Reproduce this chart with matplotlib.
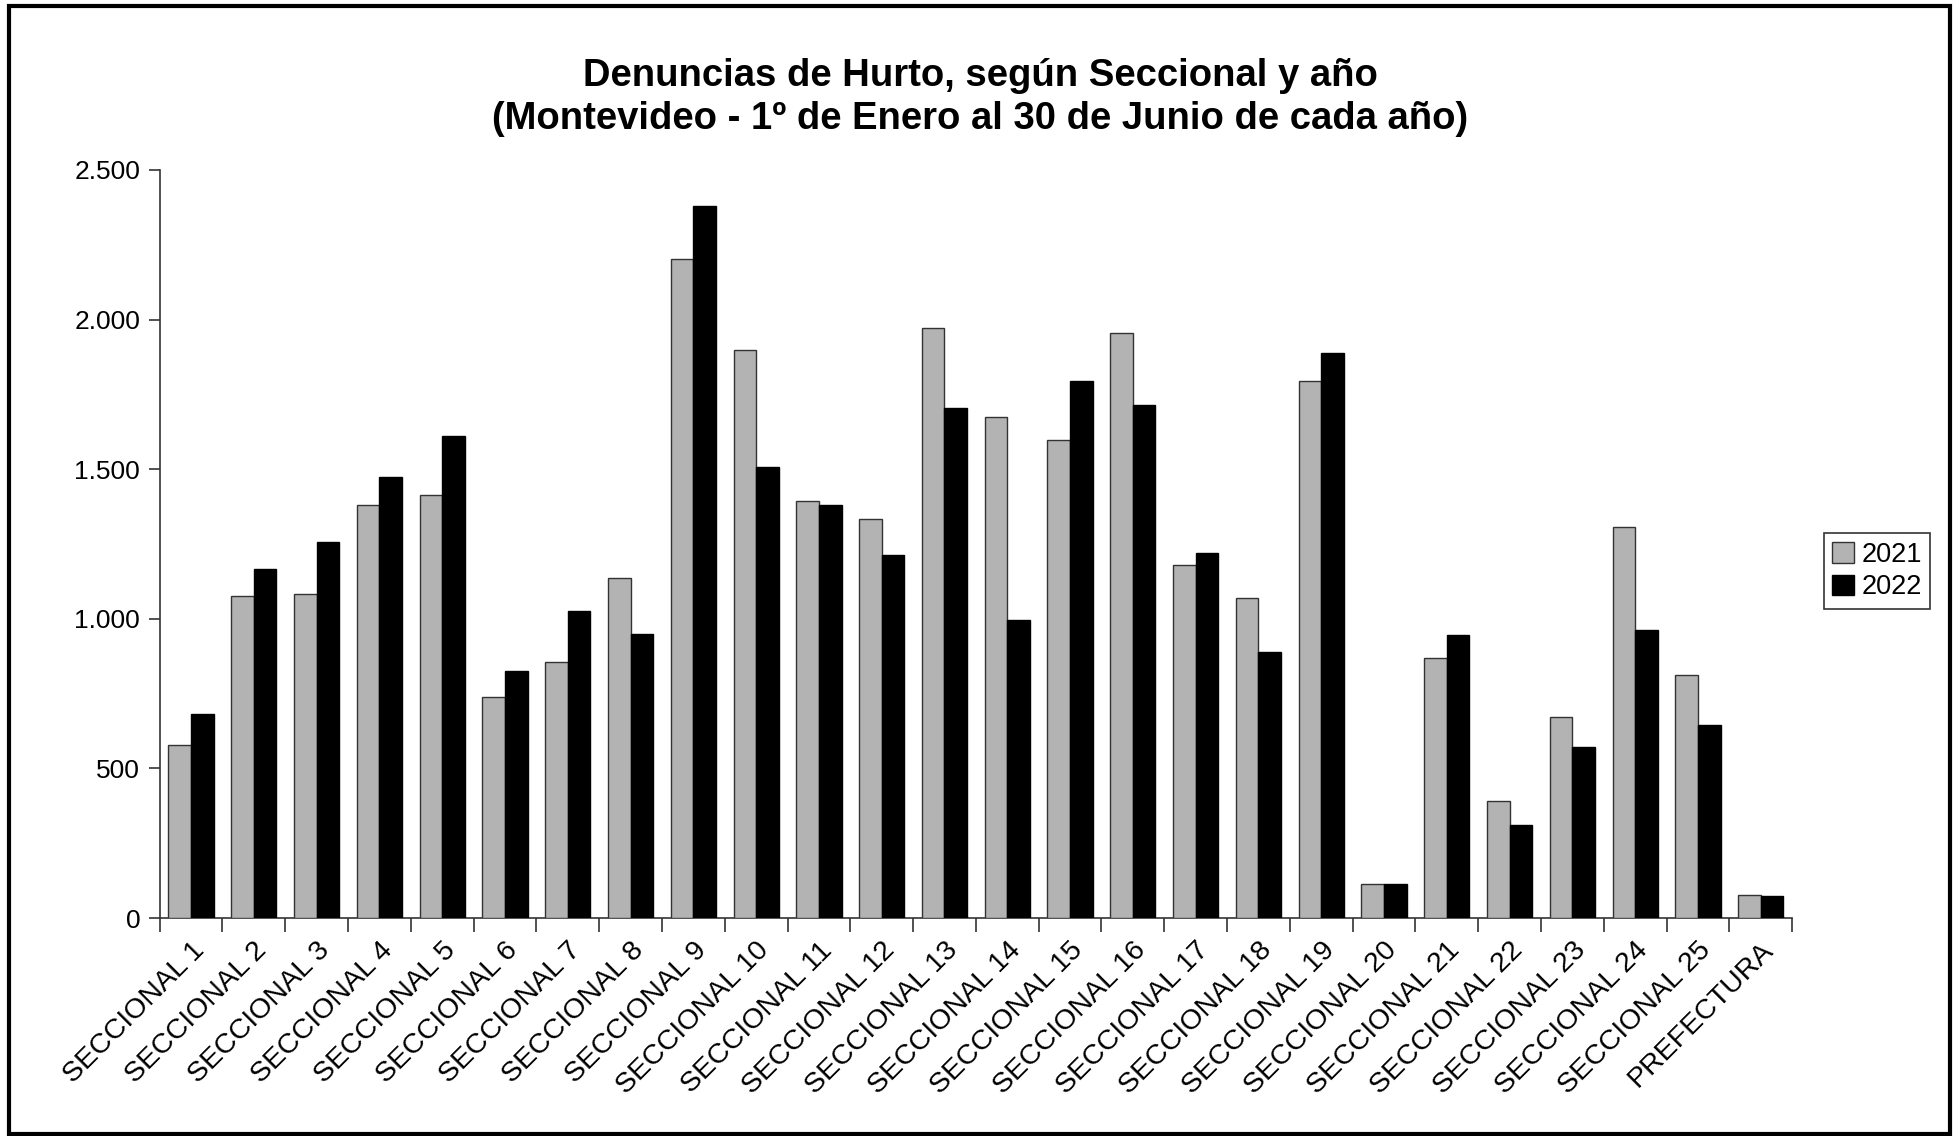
import numpy as np
import matplotlib
matplotlib.use("Agg")
import matplotlib.pyplot as plt
from matplotlib.patches import Rectangle
from matplotlib.ticker import FuncFormatter

plt.rcParams["font.family"] = ["Liberation Sans", "DejaVu Sans"]

categories = [f"SECCIONAL {i}" for i in range(1, 26)] + ["PREFECTURA"]
years = ["2021", "2022"]
values_2021 = [578, 1075, 1082, 1381, 1413, 737, 857, 1135, 2204, 1897,
               1393, 1335, 1971, 1674, 1598, 1956, 1180, 1069, 1796, 115,
               869, 391, 672, 1308, 812, 78]
values_2022 = [681, 1167, 1258, 1475, 1611, 826, 1027, 949, 2378, 1508,
               1381, 1213, 1704, 997, 1793, 1713, 1220, 889, 1889, 113,
               947, 311, 571, 964, 644, 72]

fig = plt.figure(figsize=(19.59, 11.36), dpi=100)
ax = fig.add_axes([0.0815, 0.1919, 0.8333, 0.6585])

x = np.arange(len(categories))
w = 0.36
ax.bar(x - w / 2, values_2021, width=w, color="#b3b3b3",
       edgecolor="#333333", linewidth=1.0, label=years[0], zorder=3)
ax.bar(x + w / 2, values_2022, width=w, color="black",
       edgecolor="black", linewidth=1.0, label=years[1], zorder=3)

ax.set_xlim(-0.5, len(categories) - 0.5)
ax.set_ylim(0, 2500)
ax.set_yticks([0, 500, 1000, 1500, 2000, 2500])
ax.yaxis.set_major_formatter(
    FuncFormatter(lambda v, p: f"{int(v):,}".replace(",", "."))
)

# category labels in the middle, ticks on the boundaries
ax.set_xticks(x)
ax.set_xticklabels(categories, rotation=45, ha="right",
                   rotation_mode="anchor", fontsize=20.5)
ax.tick_params(axis="x", which="major", length=0, pad=14)
ax.set_xticks(np.arange(-0.5, len(categories)), minor=True)
ax.tick_params(axis="x", which="minor", length=10, width=1.2,
               direction="out", color="#333333")
ax.tick_params(axis="y", length=8, width=1.2, direction="out",
               color="#333333", labelsize=19, pad=6)

for side in ["top", "right"]:
    ax.spines[side].set_visible(False)
for side in ["left", "bottom"]:
    ax.spines[side].set_color("#333333")
    ax.spines[side].set_linewidth(1.2)

fig.text(0.5003, 0.9142,
         "Denuncias de Hurto, según Seccional y año\n"
         "(Montevideo - 1º de Enero al 30 de Junio de cada año)",
         ha="center", va="center", fontsize=27.5, fontweight="bold",
         linespacing=1.25)

leg = fig.legend(loc="center", bbox_to_anchor=(1877 / 1959, 1 - 571 / 1136),
                 fontsize=19.5, frameon=True, fancybox=False,
                 handlelength=0.8, handleheight=0.8, handletextpad=0.3,
                 borderpad=0.3, labelspacing=0.25, borderaxespad=0)
leg.get_frame().set_edgecolor("black")
leg.get_frame().set_linewidth(1.2)

# outer frame
fig.patches.append(Rectangle((9 / 1959, 0.002), 1941 / 1959, 0.993,
                             transform=fig.transFigure, fill=False,
                             edgecolor="black", linewidth=3))

fig.savefig("out.png", dpi=100)
